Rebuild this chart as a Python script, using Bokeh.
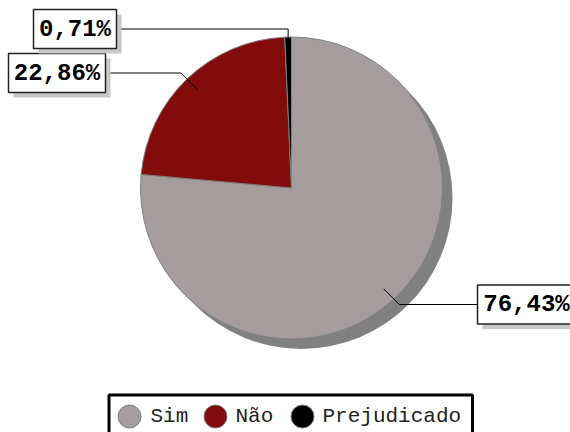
import math
from bokeh.plotting import figure
from bokeh.models import Range1d, ColumnDataSource
from bokeh.core.properties import value
from bokeh.embed import file_html
from bokeh.resources import INLINE

# ---------------- data ----------------
categories = ["Sim", "Não", "Prejudicado"]
percentages = [76.43, 22.86, 0.71]
colors = ["#A59D9D", "#820B0B", "#000000"]

# ---------------- layout (page pixel coordinates) ----------------
W, H = 570, 432
OX, OY = 0, 0
CX, CY, R = 291, 187.5, 151          # pie centre / radius
SHADOW_OFF = 10
anchor_factor = [0.905, 0.90, 1.0]    # where leader lines touch the slices
box_centers = [(526, 304), (56.5, 72.5), (74.5, 28.5)]
box_widths = [98, 97, 83]
box_h = 39
elbow_style = ["diag", "diag", "vert"]
legend_circle_x = [129, 215, 302]
legend_text_x = [150, 235, 322]
legend_y = 416
MONO = "Liberation Mono"


def Y(y):
    return -y


p = figure(width=W, height=H, output_backend="svg", toolbar_location=None,
           x_range=Range1d(OX, OX + W), y_range=Range1d(-(OY + H), -OY),
           min_border=0, x_axis_location=None, y_axis_location=None)
p.grid.visible = False
p.outline_line_color = None
p.background_fill_color = "white"
p.border_fill_color = "white"

# ---------------- pie ----------------
total = sum(percentages)
starts, ends, mids = [], [], []
cum = 0.0
for v in percentages:
    t1 = cum / total * 2 * math.pi
    cum += v
    t2 = cum / total * 2 * math.pi
    starts.append(math.pi / 2 - t2)
    ends.append(math.pi / 2 - t1)
    mids.append((t1 + t2) / 2)

# shadow
p.circle(x=[CX + SHADOW_OFF], y=[Y(CY + SHADOW_OFF)], radius=R,
         fill_color="#808080", line_color=None)

src = ColumnDataSource(dict(cat=categories, val=percentages, color=colors,
                            start=starts, end=ends))
p.wedge(x=CX, y=Y(CY), radius=R, start_angle="start", end_angle="end",
        fill_color="color", line_color="#808080", line_width=1, source=src)

# ---------------- data labels ----------------
labels = [f"{v:.2f}".replace(".", ",") + "%" for v in percentages]
for i, lab in enumerate(labels):
    ax = CX + anchor_factor[i] * R * math.sin(mids[i])
    ay = CY - anchor_factor[i] * R * math.cos(mids[i])
    bx, by = box_centers[i]
    bw = box_widths[i]
    edge_x = bx - bw / 2 if bx > CX else bx + bw / 2
    if elbow_style[i] == "diag":
        dy = abs(by - ay)
        ex = ax + dy if bx > CX else ax - dy
    else:
        ex = ax
    p.line(x=[ax, ex, edge_x], y=[Y(ay), Y(by), Y(by)],
           line_color="black", line_width=1)
    # box shadow
    p.rect(x=bx + 5, y=Y(by + 5), width=bw, height=box_h,
           fill_color="#C8C8C8", line_color=None)
    p.rect(x=bx, y=Y(by), width=bw, height=box_h,
           fill_color="white", line_color="#222222", line_width=1.5)
    p.text(x=[bx], y=[Y(by)], text=[lab], text_font=value(MONO),
           text_font_style="bold", text_font_size="24px",
           text_align="center", text_baseline="middle", text_color="black")

# ---------------- legend ----------------
p.quad(left=108.5, right=472, top=Y(394.5), bottom=Y(460),
       fill_color="white", line_color="black", line_width=3)
p.circle(x=legend_circle_x, y=[Y(legend_y)] * 3, radius=11.5,
         fill_color=colors, line_color="#808080", line_width=1)
p.text(x=legend_text_x, y=[Y(legend_y)] * 3, text=categories,
       text_font=value(MONO), text_font_size="21px",
       text_align="left", text_baseline="middle", text_color="#222222")

open("out.html", "w").write(file_html(p, INLINE))
